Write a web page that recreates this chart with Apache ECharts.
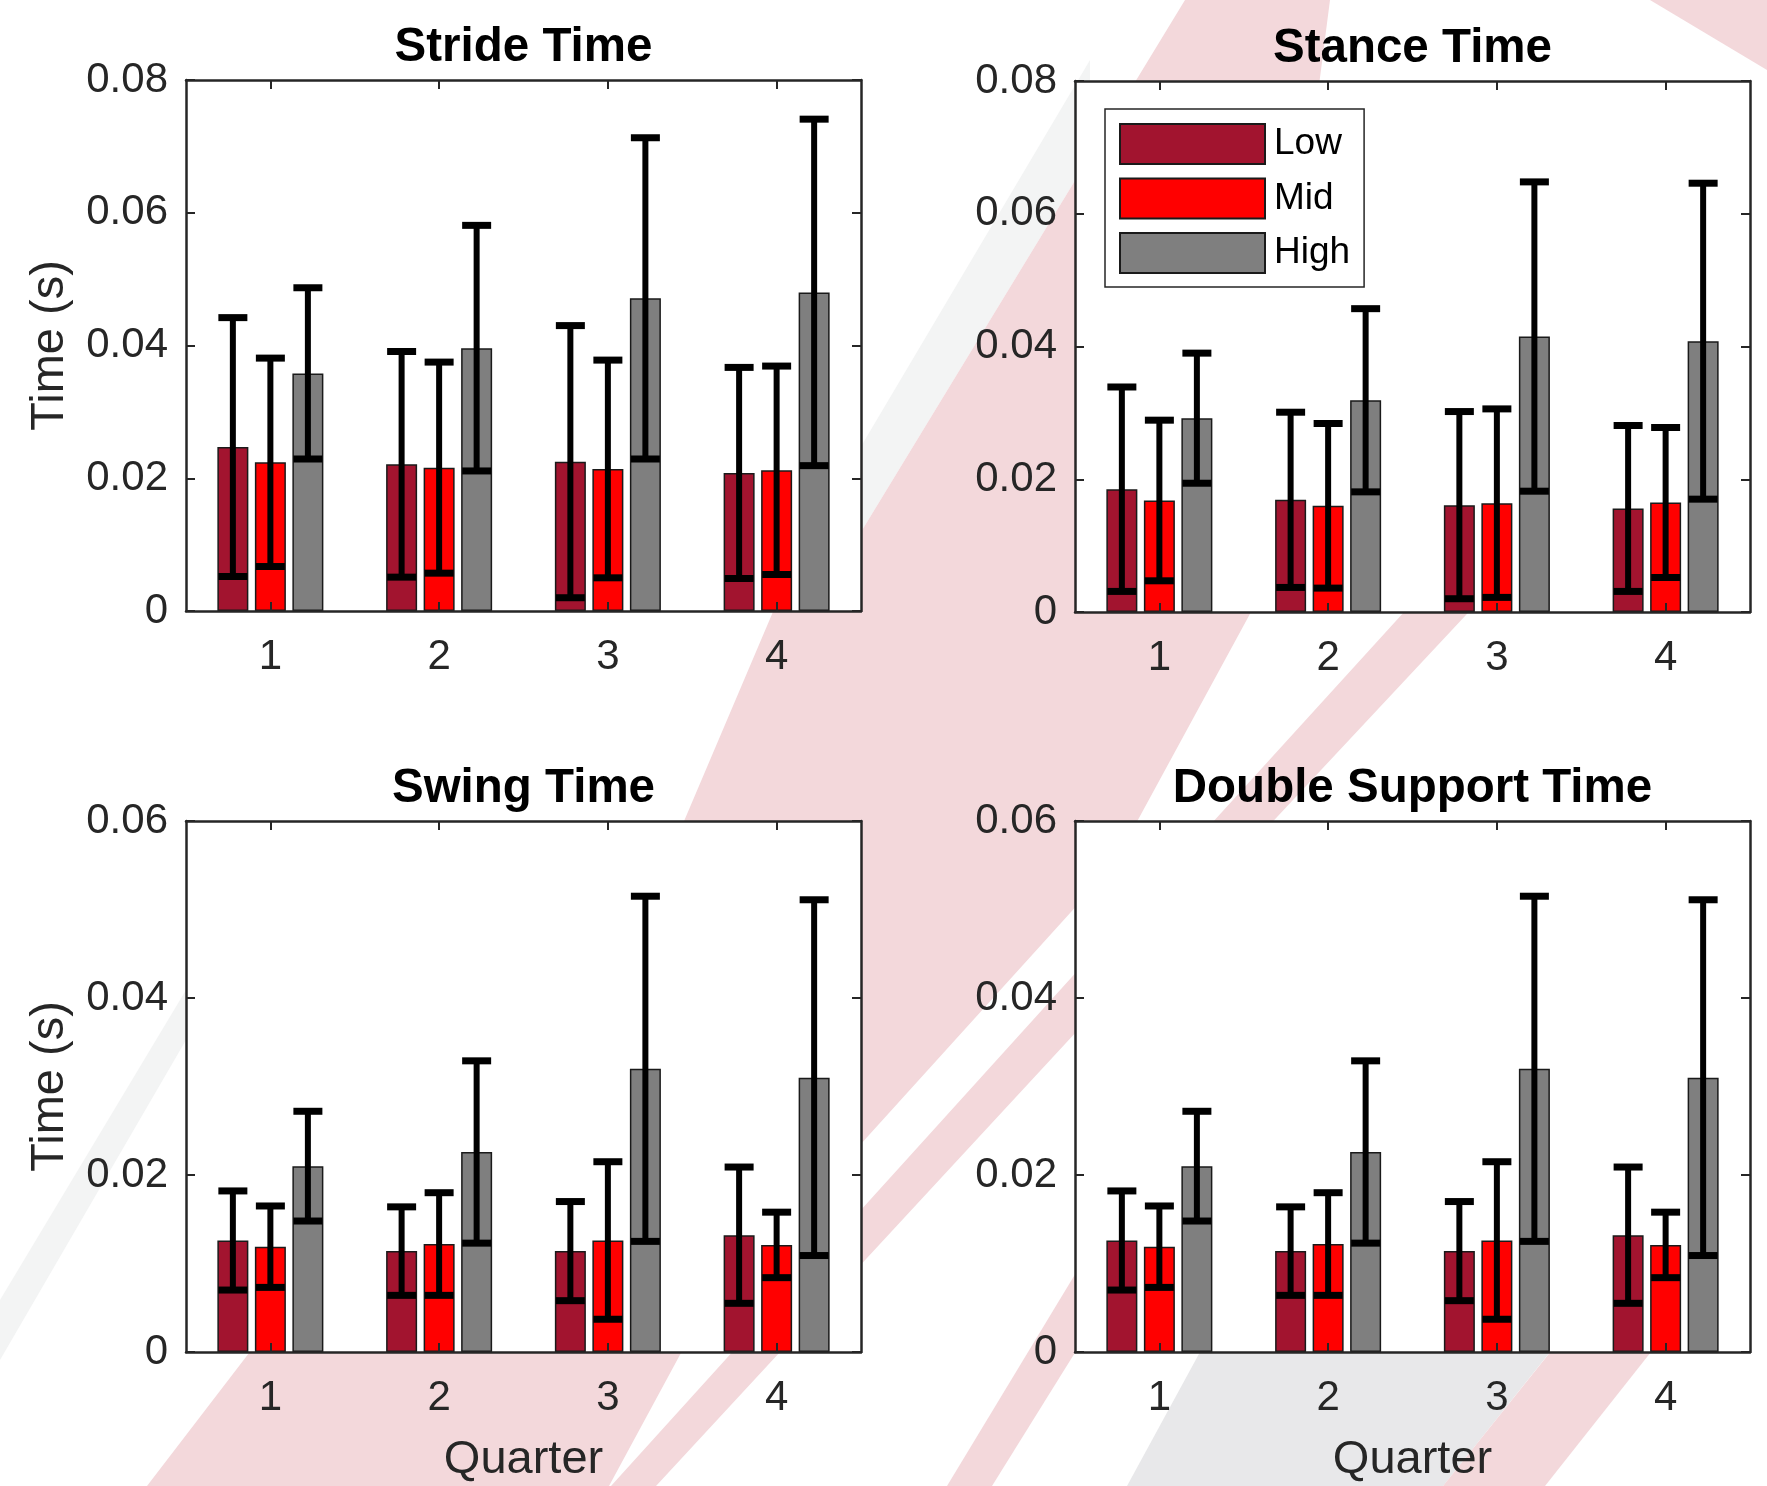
<!DOCTYPE html>
<html>
<head>
<meta charset="utf-8">
<title>Gait timing by quarter</title>
<script src="https://cdn.jsdelivr.net/npm/echarts@6/dist/echarts.min.js"></script>
<style>
  html, body { margin: 0; padding: 0; background: #ffffff; }
  #chart { width: 1767px; height: 1486px; }
</style>
</head>
<body>
<div id="chart"></div>
<script>
// ---------------- data ----------------
const categories = ['1', '2', '3', '4'];
const seriesNames = ['Low', 'Mid', 'High'];
const yTicksTop = [0, 0.02, 0.04, 0.06, 0.08];
const yTicksBottom = [0, 0.02, 0.04, 0.06];

const strideLow    = [0.0247, 0.0221, 0.0225, 0.0208];
const strideLowSD  = [0.0195, 0.0170, 0.0205, 0.0159];
const strideMid    = [0.0224, 0.0216, 0.0214, 0.0212];
const strideMidSD  = [0.0157, 0.0159, 0.0164, 0.0157];
const strideHigh   = [0.0358, 0.0396, 0.0471, 0.0480];
const strideHighSD = [0.0129, 0.0185, 0.0242, 0.0261];

const stanceLow    = [0.0185, 0.0169, 0.0161, 0.0156];
const stanceLowSD  = [0.0154, 0.0132, 0.0141, 0.0125];
const stanceMid    = [0.0168, 0.0160, 0.0164, 0.0165];
const stanceMidSD  = [0.0121, 0.0124, 0.0142, 0.0113];
const stanceHigh   = [0.0292, 0.0319, 0.0415, 0.0408];
const stanceHighSD = [0.0098, 0.0138, 0.0233, 0.0238];

const swingLow    = [0.0126, 0.0114, 0.0114, 0.0132];
const swingLowSD  = [0.0056, 0.0050, 0.0056, 0.0077];
const swingMid    = [0.0119, 0.0122, 0.0126, 0.0121];
const swingMidSD  = [0.0046, 0.0058, 0.0089, 0.0037];
const swingHigh   = [0.0210, 0.0226, 0.0320, 0.0310];
const swingHighSD = [0.0062, 0.0103, 0.0195, 0.0201];

const dsLow    = [0.0126, 0.0114, 0.0114, 0.0132];
const dsLowSD  = [0.0056, 0.0050, 0.0056, 0.0077];
const dsMid    = [0.0119, 0.0122, 0.0126, 0.0121];
const dsMidSD  = [0.0046, 0.0058, 0.0089, 0.0037];
const dsHigh   = [0.0210, 0.0226, 0.0320, 0.0310];
const dsHighSD = [0.0062, 0.0103, 0.0195, 0.0201];

// ---------------- styling / layout ----------------
const FONT = 'Liberation Sans, Arial, Helvetica, sans-serif';
const AXIS_COLOR = '#262626';
const COLORS = ['#A2142F', '#FF0000', '#7F7F7F'];
const BAR_W = 31;
const BAR_GAP_FRAC = 0.21;
const OFFSET = BAR_W * (1 + BAR_GAP_FRAC);
const CAP_HALF = 14.5;

const panels = [
  { title: 'Stride Time', ticks: yTicksTop, means: [strideLow, strideMid, strideHigh], sds: [strideLowSD, strideMidSD, strideHighSD],
    grid: { left: 186, top: 80, width: 675, height: 531 }, yName: 'Time (s)', xName: '' },
  { title: 'Stance Time', ticks: yTicksTop, means: [stanceLow, stanceMid, stanceHigh], sds: [stanceLowSD, stanceMidSD, stanceHighSD],
    grid: { left: 1075, top: 81, width: 675, height: 531 }, yName: '', xName: '' },
  { title: 'Swing Time', ticks: yTicksBottom, means: [swingLow, swingMid, swingHigh], sds: [swingLowSD, swingMidSD, swingHighSD],
    grid: { left: 186, top: 821, width: 675, height: 531 }, yName: 'Time (s)', xName: 'Quarter' },
  { title: 'Double Support Time', ticks: yTicksBottom, means: [dsLow, dsMid, dsHigh], sds: [dsLowSD, dsMidSD, dsHighSD],
    grid: { left: 1075, top: 821, width: 675, height: 531 }, yName: '', xName: 'Quarter' }
];

// ---------------- background decoration ----------------
const PINK = '#F3D8DB';
const LGRAY = '#F3F4F4';
const DGRAY = '#E8E8EA';
const decoPolys = [
  { fill: LGRAY, pts: [[1090, 60], [1090, 156], [850, 550], [850, 465]] },
  { fill: PINK, pts: [[1185, 0], [1330, 0], [1251, 612], [1127, 840], [1090, 891], [850, 1156], [688, 1340], [609, 1486],
                      [147, 1486], [259, 1340], [676, 840], [778, 600], [850, 550], [1090, 156]] },
  { fill: PINK, pts: [[1415, 600], [1480, 600], [1090, 1017], [656, 1486], [611, 1486], [1090, 957]] },
  { fill: DGRAY, pts: [[1200, 1352], [1550, 1352], [1443, 1486], [1127, 1486]] },
  { fill: PINK, pts: [[1120, 1200], [1170, 1200], [992, 1486], [947, 1486]] },
  { fill: PINK, pts: [[1600, 1290], [1700, 1290], [1545, 1486], [1443, 1486]] },
  { fill: LGRAY, pts: [[0, 1300], [0, 1360], [186, 1040], [186, 990]] },
  { fill: PINK, pts: [[1650, 0], [1767, 0], [1767, 70]] }
];

// ---------------- build option ----------------
const grids = [], xAxes = [], yAxes = [], series = [], titles = [];

panels.forEach((p, g) => {
  const ymax = p.ticks[p.ticks.length - 1];
  const interval = p.ticks[1] - p.ticks[0];
  grids.push(Object.assign({ show: true, backgroundColor: '#ffffff', borderWidth: 0 }, p.grid));

  titles.push({
    text: p.title,
    left: p.grid.left + p.grid.width / 2,
    top: p.grid.top - 56,
    textAlign: 'center',
    padding: 0,
    textStyle: { fontFamily: FONT, fontSize: 47.5, fontWeight: 'bold', color: '#000000' }
  });

  const tickCommon = { show: true, inside: true, length: 9, lineStyle: { color: AXIS_COLOR, width: 2 } };
  const lineCommon = { show: true, onZero: false, lineStyle: { color: AXIS_COLOR, width: 2.5 } };

  xAxes.push({
    type: 'category', gridIndex: g, position: 'bottom', data: categories, z: 10,
    axisLine: lineCommon,
    axisTick: Object.assign({ alignWithLabel: true }, tickCommon),
    axisLabel: { margin: 25, fontFamily: FONT, fontSize: 42, color: AXIS_COLOR },
    name: p.xName, nameLocation: 'middle', nameGap: 85,
    nameTextStyle: { fontFamily: FONT, fontSize: 47, color: AXIS_COLOR },
    splitLine: { show: false }
  });
  xAxes.push({
    type: 'category', gridIndex: g, position: 'top', data: categories, z: 10,
    axisLine: lineCommon,
    axisTick: Object.assign({ alignWithLabel: true }, tickCommon),
    axisLabel: { show: false }, splitLine: { show: false }
  });
  yAxes.push({
    type: 'value', gridIndex: g, position: 'left', min: 0, max: ymax, interval: interval, z: 10,
    axisLine: lineCommon, axisTick: tickCommon,
    axisLabel: { margin: 18, fontFamily: FONT, fontSize: 42, color: AXIS_COLOR,
                 formatter: v => String(+v.toFixed(2)) },
    name: p.yName, nameLocation: 'middle', nameGap: 112, nameRotate: 90,
    nameTextStyle: { fontFamily: FONT, fontSize: 47, color: AXIS_COLOR },
    splitLine: { show: false }
  });
  yAxes.push({
    type: 'value', gridIndex: g, position: 'right', min: 0, max: ymax, interval: interval, z: 10,
    axisLine: lineCommon, axisTick: tickCommon,
    axisLabel: { show: false }, splitLine: { show: false }
  });

  seriesNames.forEach((name, k) => {
    series.push({
      type: 'bar', name: name, xAxisIndex: 2 * g, yAxisIndex: 2 * g,
      data: p.means[k], barWidth: BAR_W, barGap: (BAR_GAP_FRAC * 100) + '%',
      itemStyle: { color: COLORS[k], borderColor: '#1a1a1a', borderWidth: 1.5 },
      emphasis: { disabled: true }, z: 2
    });
  });

  const errData = [];
  seriesNames.forEach((name, k) => {
    categories.forEach((c, i) => { errData.push([i, p.means[k][i], p.sds[k][i], k]); });
  });
  series.push({
    type: 'custom', name: 'err' + g, xAxisIndex: 2 * g, yAxisIndex: 2 * g, z: 5,
    encode: { x: 0, y: 1 }, data: errData, silent: true,
    renderItem: function (params, api) {
      const i = api.value(0), m = api.value(1), s = api.value(2), k = api.value(3);
      const base = api.coord([i, m]);
      const x = base[0] + (k - 1) * OFFSET;
      const yT = api.coord([i, m + s])[1];
      const yB = api.coord([i, m - s])[1];
      const st = { stroke: '#000000', lineWidth: 6 };
      const cst = { stroke: '#000000', lineWidth: 7 };
      return {
        type: 'group',
        children: [
          { type: 'line', shape: { x1: x, y1: yT, x2: x, y2: yB }, style: st },
          { type: 'line', shape: { x1: x - CAP_HALF, y1: yT, x2: x + CAP_HALF, y2: yT }, style: cst },
          { type: 'line', shape: { x1: x - CAP_HALF, y1: yB, x2: x + CAP_HALF, y2: yB }, style: cst }
        ]
      };
    }
  });
});

const option = {
  animation: false,
  backgroundColor: '#ffffff',
  title: titles,
  grid: grids,
  xAxis: xAxes,
  yAxis: yAxes,
  legend: {
    data: seriesNames,
    orient: 'vertical',
    left: 1105, top: 109,
    padding: [14, 14, 13, 14],
    itemWidth: 145, itemHeight: 40, itemGap: 12.5,
    icon: 'rect',
    backgroundColor: '#ffffff',
    borderColor: AXIS_COLOR, borderWidth: 1.5, borderRadius: 0,
    selectedMode: false,
    textStyle: { fontFamily: FONT, fontSize: 37, color: '#000000', padding: [0, 0, 0, 4] }
  },
  graphic: { elements: decoPolys.map(d => ({
    type: 'polygon', silent: true, z: -10,
    shape: { points: d.pts }, style: { fill: d.fill }
  })) },
  series: series
};

const chart = echarts.init(document.getElementById('chart'), null, { renderer: 'canvas' });
chart.setOption(option);
</script>
</body>
</html>
